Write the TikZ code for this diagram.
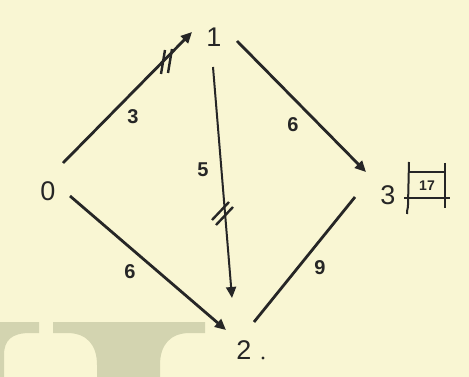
\documentclass[tikz,border=0pt]{standalone}
\usepackage{fontspec}
\setmainfont{Liberation Sans}
\usetikzlibrary{calc,arrows.meta}
\definecolor{paper}{HTML}{F9F6D3}
\definecolor{band}{HTML}{D3D4B0}
\definecolor{ink}{HTML}{262626}
\tikzset{
  lbl/.style={text=ink,font=\fontsize{27}{29}\selectfont,inner sep=0pt},
  wlbl/.style={text=ink,font=\bfseries\fontsize{20}{22}\selectfont,inner sep=0pt},
  edge/.style={draw=ink,line width=2.8pt,-{Triangle[length=11pt,width=10pt]}},
  plain/.style={draw=ink,line width=2.8pt},
  tick/.style={draw=ink,line width=2.4pt},
}
\begin{document}
\begin{tikzpicture}[x=1pt,y=-1pt]
\fill[paper] (0,0) rectangle (469,377);
\useasboundingbox (0,0) rectangle (469,377);
% gray shapes bottom left
\fill[band] (0,322) -- (39,322) -- (39,333) -- (30,333) .. controls (12,333) and (4,340) .. (4,355) -- (4,377) -- (0,377) -- cycle;
\fill[band] (53,322) -- (205,322) -- (205,333) -- (190,333) .. controls (170,333) and (160,345) .. (160,365) -- (160,377) -- (97,377) -- (97,365) .. controls (97,345) and (87,333) .. (67,333) -- (53,333) -- cycle;
% nodes
\node[lbl] (n0) at (48,191) {0};
\node[lbl] (n1) at (214,37) {1};
\node[lbl] (n2) at (244,350) {2};
\node[lbl] (n3) at (388,195) {3};
\fill[ink] (263,358) circle (1.6);
% box 17
\node[text=ink,font=\bfseries\fontsize{14}{16}\selectfont,inner sep=0pt] (b17) at (427,186) {17};
\draw[ink,line width=2pt] (409,162) -- (408,205) .. controls (408,210) and (406,212) .. (407,214);
\draw[ink,line width=2pt] (445,163) -- (445,208);
\draw[ink,line width=2pt] (409,172) -- (445,172);
\draw[ink,line width=2pt] (404,198) -- (450,198);
% edges
\draw[edge] ($(n0)+(15,-28)$) -- ($(n1)+(-22,-5)$);
\draw[edge] ($(n1)+(23,4)$) -- ($(n3)+(-22,-23)$);
\draw[edge,line width=2pt] ($(n1)+(-1,30)$) -- ($(n2)+(-12,-52)$);
\draw[edge] ($(n0)+(22,5)$) -- ($(n2)+(-18,-20)$);
\draw[plain] ($(n3)+(-33,2)$) -- ($(n2)+(10,-28)$);
% tick marks
\draw[tick] (161,74) -- (165,50);
\draw[tick] (168,73) -- (172,49);
\draw[tick] (212,220) -- (229,202);
\draw[tick] (216,225) -- (233,207);
% weights
\node[wlbl] (w01) at (133,117) {3};
\node[wlbl] (w13) at (293,125) {6};
\node[wlbl] (w12) at (203,170) {5};
\node[wlbl] (w02) at (130,272) {6};
\node[wlbl] (w32) at (320,268) {9};
\end{tikzpicture}
\end{document}
